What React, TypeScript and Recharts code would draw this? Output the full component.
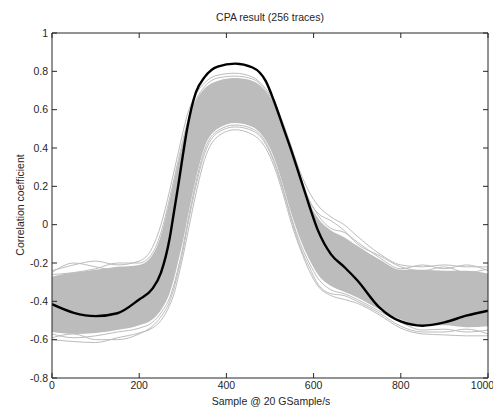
import { ComposedChart, Line, Area, XAxis, YAxis } from 'recharts';

// sample positions shared by every trace
const samples = [0, 50, 100, 150, 200, 230, 250, 270, 280, 290, 300, 310, 330, 350, 380, 420, 460, 490, 510, 530, 550, 570, 590, 610, 640, 670, 700, 750, 800, 850, 900, 950, 1000];

// the correct key guess (thick black)
const bestKey = [-0.415, -0.46, -0.477, -0.462, -0.39, -0.335, -0.25, -0.07, 0.07, 0.21, 0.36, 0.5, 0.69, 0.77, 0.825, 0.84, 0.82, 0.75, 0.64, 0.51, 0.38, 0.24, 0.1, -0.03, -0.155, -0.22, -0.29, -0.43, -0.505, -0.527, -0.51, -0.475, -0.449];

// dense core of the gray traces
const coreHigh = [-0.27, -0.25, -0.235, -0.22, -0.21, -0.16, -0.055, 0.13, 0.23, 0.33, 0.43, 0.525, 0.645, 0.71, 0.75, 0.765, 0.75, 0.695, 0.625, 0.51, 0.375, 0.235, 0.115, 0.035, -0.03, -0.065, -0.11, -0.18, -0.235, -0.235, -0.24, -0.24, -0.255];
const coreLow = [-0.56, -0.57, -0.565, -0.55, -0.525, -0.495, -0.445, -0.355, -0.28, -0.185, -0.09, 0.025, 0.24, 0.405, 0.5, 0.53, 0.51, 0.44, 0.345, 0.205, 0.05, -0.08, -0.18, -0.26, -0.32, -0.35, -0.38, -0.44, -0.495, -0.525, -0.525, -0.535, -0.53];

// a few of the outer gray traces
const traceA = [-0.24, -0.21, -0.19, -0.21, -0.19, -0.12, 0.0, 0.18, 0.28, 0.38, 0.48, 0.57, 0.68, 0.74, 0.78, 0.79, 0.77, 0.71, 0.64, 0.53, 0.4, 0.27, 0.17, 0.1, 0.04, 0.0, -0.06, -0.15, -0.21, -0.22, -0.21, -0.22, -0.22];
const traceB = [-0.6, -0.61, -0.615, -0.59, -0.565, -0.54, -0.5, -0.42, -0.36, -0.27, -0.17, -0.06, 0.16, 0.34, 0.46, 0.495, 0.47, 0.4, 0.3, 0.16, 0.0, -0.13, -0.24, -0.32, -0.37, -0.39, -0.41, -0.47, -0.54, -0.57, -0.575, -0.58, -0.58];
const traceC = [-0.26, -0.25, -0.23, -0.2, -0.2, -0.15, -0.04, 0.14, 0.24, 0.34, 0.44, 0.53, 0.65, 0.72, 0.765, 0.775, 0.76, 0.7, 0.63, 0.52, 0.39, 0.25, 0.13, 0.05, -0.02, -0.04, -0.09, -0.17, -0.23, -0.21, -0.23, -0.21, -0.24];
const traceD = [-0.57, -0.59, -0.58, -0.56, -0.54, -0.51, -0.46, -0.38, -0.31, -0.22, -0.12, 0.0, 0.22, 0.39, 0.49, 0.52, 0.5, 0.43, 0.33, 0.19, 0.03, -0.1, -0.2, -0.28, -0.34, -0.36, -0.39, -0.45, -0.51, -0.55, -0.545, -0.56, -0.55];
const traceE = [-0.25, -0.2, -0.22, -0.24, -0.22, -0.17, -0.07, 0.11, 0.21, 0.31, 0.41, 0.51, 0.63, 0.7, 0.745, 0.76, 0.745, 0.69, 0.62, 0.505, 0.37, 0.23, 0.12, 0.06, 0.02, -0.03, -0.1, -0.16, -0.22, -0.24, -0.22, -0.25, -0.23];
const traceF = [-0.59, -0.57, -0.6, -0.6, -0.57, -0.53, -0.48, -0.4, -0.33, -0.24, -0.14, -0.02, 0.2, 0.37, 0.48, 0.51, 0.49, 0.42, 0.32, 0.18, 0.02, -0.12, -0.22, -0.31, -0.36, -0.37, -0.4, -0.46, -0.53, -0.56, -0.56, -0.545, -0.57];

const xTicks = [0, 200, 400, 600, 800, 1000];
const yTicks = [-0.8, -0.6, -0.4, -0.2, 0, 0.2, 0.4, 0.6, 0.8, 1];

const grayTraces = [traceA, traceB, traceC, traceD, traceE, traceF];

const data = samples.map((x, i) => {
  const row: Record<string, any> = { x, best: bestKey[i], band: [coreLow[i], coreHigh[i]] };
  grayTraces.forEach((t, k) => {
    row[`t${k}`] = t[i];
  });
  return row;
});

const FONT = '"Liberation Sans", Arial, Helvetica, sans-serif';
const INK = '#262626';
const GRAY = '#bcbcbc';
const tickStyle = { fontSize: 10.5, fill: INK, fontFamily: FONT };

export default function App() {
  return (
    <div style={{ position: 'relative', width: 485, height: 400, fontFamily: FONT, color: INK }}>
      <div style={{ position: 'absolute', left: 262, top: 3, transform: 'translateX(-50%)', fontSize: 10.5, lineHeight: '12px', whiteSpace: 'nowrap' }}>
        CPA result (256 traces)
      </div>
      <ComposedChart width={485} height={400} data={data} margin={{ top: 20, right: 0, bottom: 10, left: 14 }}>
        <XAxis
          dataKey="x"
          type="number"
          domain={[0, 1000]}
          ticks={xTicks}
          tickSize={-5}
          tickMargin={9}
          height={20}
          tick={tickStyle}
          stroke={INK}
          allowDataOverflow
        />
        <XAxis
          xAxisId="top"
          orientation="top"
          dataKey="x"
          type="number"
          domain={[0, 1000]}
          ticks={xTicks}
          tickSize={-5}
          height={5}
          tickFormatter={() => ''}
          stroke={INK}
          allowDataOverflow
        />
        <YAxis
          type="number"
          domain={[-0.8, 1]}
          ticks={yTicks}
          tickSize={-5}
          tickMargin={9}
          width={30}
          tick={tickStyle}
          stroke={INK}
          allowDataOverflow
        />
        <YAxis
          yAxisId="right"
          orientation="right"
          type="number"
          domain={[-0.8, 1]}
          ticks={yTicks}
          tickSize={-5}
          width={5}
          tickFormatter={() => ''}
          stroke={INK}
          allowDataOverflow
        />
        <Area
          dataKey="band"
          type="monotone"
          stroke="none"
          fill={GRAY}
          fillOpacity={1}
          isAnimationActive={false}
        />
        {grayTraces.map((_, k) => (
          <Line
            key={k}
            dataKey={`t${k}`}
            type="monotone"
            stroke={GRAY}
            strokeWidth={1}
            dot={false}
            isAnimationActive={false}
          />
        ))}
        <Line
          dataKey="best"
          type="monotone"
          stroke="#000"
          strokeWidth={2.4}
          dot={false}
          isAnimationActive={false}
        />
      </ComposedChart>
      <div style={{ position: 'absolute', left: 263, top: 387, transform: 'translateX(-50%)', fontSize: 10.5, lineHeight: '12px', whiteSpace: 'nowrap' }}>
        Sample @ 20 GSample/s
      </div>
      <div style={{ position: 'absolute', left: 12, top: 197, transform: 'translate(-50%, -50%) rotate(-90deg)', fontSize: 10.5, lineHeight: '12px', whiteSpace: 'nowrap' }}>
        Correlation coefficient
      </div>
    </div>
  );
}
